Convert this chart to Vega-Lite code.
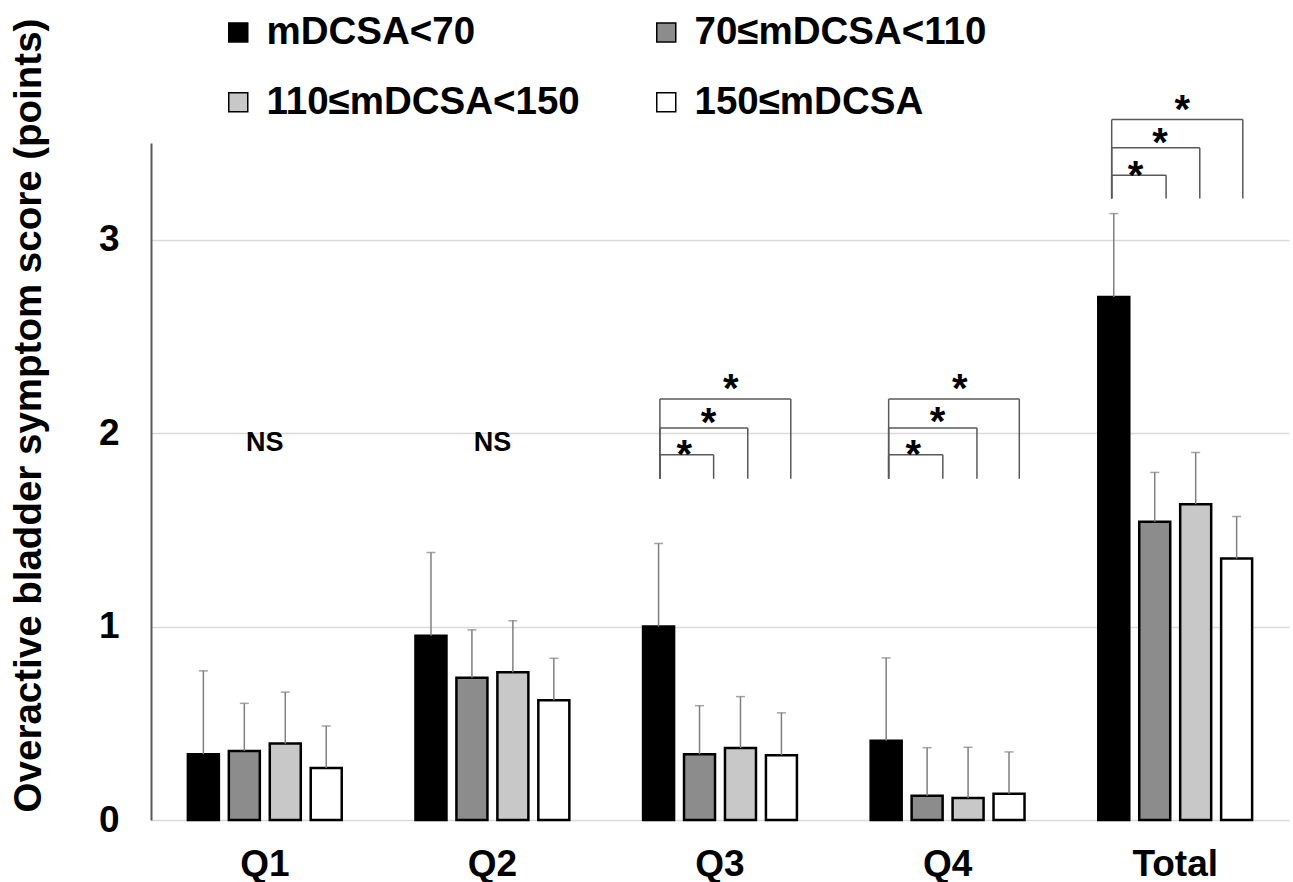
{
  "$schema": "https://vega.github.io/schema/vega-lite/v6.json",
  "width": 1138,
  "height": 677,
  "autosize": {"type": "none"},
  "padding": {"left": 151, "top": 143, "right": 4, "bottom": 62},
  "background": "white",
  "config": {
    "view": {"stroke": null},
    "font": "Liberation Sans",
    "axisY": {
      "ticks": false,
      "labelFontSize": 37,
      "labelFontWeight": "bold",
      "labelColor": "black",
      "labelPadding": 32,
      "domainColor": "#595959",
      "domainWidth": 2,
      "gridColor": "#d9d9d9",
      "gridWidth": 1.5,
      "titleFontSize": 38.5,
      "titleFontWeight": "bold",
      "titleColor": "black"
    },
    "axisX": {
      "ticks": false,
      "domain": false,
      "labelFontSize": 37,
      "labelFontWeight": "bold",
      "labelColor": "black",
      "labelPadding": 26,
      "labelAngle": 0
    }
  },
  "datasets": {
    "bars": [
      {"q": "Q1", "g": "mDCSA<70", "mean": 0.34, "upper": 0.771},
      {"q": "Q1", "g": "70≤mDCSA<110", "mean": 0.357, "upper": 0.603},
      {"q": "Q1", "g": "110≤mDCSA<150", "mean": 0.395, "upper": 0.661},
      {"q": "Q1", "g": "150≤mDCSA", "mean": 0.269, "upper": 0.486},
      {"q": "Q2", "g": "mDCSA<70", "mean": 0.953, "upper": 1.383},
      {"q": "Q2", "g": "70≤mDCSA<110", "mean": 0.735, "upper": 0.983},
      {"q": "Q2", "g": "110≤mDCSA<150", "mean": 0.764, "upper": 1.03},
      {"q": "Q2", "g": "150≤mDCSA", "mean": 0.619, "upper": 0.836},
      {"q": "Q3", "g": "mDCSA<70", "mean": 1.0, "upper": 1.429},
      {"q": "Q3", "g": "70≤mDCSA<110", "mean": 0.34, "upper": 0.591},
      {"q": "Q3", "g": "110≤mDCSA<150", "mean": 0.372, "upper": 0.638},
      {"q": "Q3", "g": "150≤mDCSA", "mean": 0.335, "upper": 0.554},
      {"q": "Q4", "g": "mDCSA<70", "mean": 0.41, "upper": 0.838},
      {"q": "Q4", "g": "70≤mDCSA<110", "mean": 0.126, "upper": 0.374},
      {"q": "Q4", "g": "110≤mDCSA<150", "mean": 0.114, "upper": 0.376},
      {"q": "Q4", "g": "150≤mDCSA", "mean": 0.136, "upper": 0.352},
      {"q": "Total", "g": "mDCSA<70", "mean": 2.704, "upper": 3.135},
      {"q": "Total", "g": "70≤mDCSA<110", "mean": 1.542, "upper": 1.797},
      {"q": "Total", "g": "110≤mDCSA<150", "mean": 1.633, "upper": 1.9},
      {"q": "Total", "g": "150≤mDCSA", "mean": 1.352, "upper": 1.569}
    ],
    "ns": [
      {"q": "Q1", "y": 1.95, "label": "NS"},
      {"q": "Q2", "y": 1.95, "label": "NS"}
    ],
    "brackets": [
      {"l": 2.236, "r": 2.472, "top": 1.888, "bot": 1.764},
      {"l": 2.236, "r": 2.622, "top": 2.026, "bot": 1.764},
      {"l": 2.236, "r": 2.811, "top": 2.176, "bot": 1.764},
      {"l": 3.241, "r": 3.479, "top": 1.888, "bot": 1.764},
      {"l": 3.241, "r": 3.629, "top": 2.026, "bot": 1.764},
      {"l": 3.241, "r": 3.815, "top": 2.176, "bot": 1.764},
      {"l": 4.221, "r": 4.46, "top": 3.333, "bot": 3.213},
      {"l": 4.221, "r": 4.608, "top": 3.475, "bot": 3.213},
      {"l": 4.221, "r": 4.797, "top": 3.621, "bot": 3.213}
    ],
    "stars": [
      {"x": 2.547, "y": 2.273, "s": "*"},
      {"x": 2.45, "y": 2.099, "s": "*"},
      {"x": 2.343, "y": 1.935, "s": "*"},
      {"x": 3.554, "y": 2.273, "s": "*"},
      {"x": 3.456, "y": 2.104, "s": "*"},
      {"x": 3.349, "y": 1.931, "s": "*"},
      {"x": 4.531, "y": 3.716, "s": "*"},
      {"x": 4.433, "y": 3.544, "s": "*"},
      {"x": 4.326, "y": 3.377, "s": "*"}
    ]
  },
  "layer": [
    {
      "layer": [
        {
          "data": {"name": "bars"},
          "mark": {"type": "bar", "stroke": "black", "strokeWidth": 2.5},
          "encoding": {
            "x": {"field": "q", "type": "nominal", "sort": ["Q1", "Q2", "Q3", "Q4", "Total"], "scale": {"paddingInner": 0.324, "paddingOuter": 0.162}, "title": null},
            "xOffset": {"field": "g", "type": "nominal", "sort": ["mDCSA<70", "70≤mDCSA<110", "110≤mDCSA<150", "150≤mDCSA"], "scale": {"paddingInner": 0.243, "paddingOuter": 0}},
            "y": {"field": "mean", "type": "quantitative", "scale": {"domain": [0, 3.5], "nice": false}, "title": "Overactive bladder symptom score (points)", "axis": {"values": [0, 1, 2, 3], "format": "d", "titleX": -111, "titleY": 272, "titleBaseline": "alphabetic", "titleAngle": 270, "titleAlign": "center"}},
            "fill": {
              "field": "g", "type": "nominal",
              "scale": {"domain": ["mDCSA<70", "110≤mDCSA<150", "70≤mDCSA<110", "150≤mDCSA"], "range": ["#000000", "#c8c8c8", "#8c8c8c", "#ffffff"]},
              "legend": {
                "orient": "none", "legendX": 68, "legendY": -130, "columns": 2, "title": null,
                "symbolType": "square", "symbolSize": 361, "symbolStrokeColor": "black", "symbolStrokeWidth": 1.5,
                "labelFontSize": 38.5, "labelFontWeight": "bold", "labelColor": "black", "labelOffset": 9, "labelLimit": 500,
                "columnPadding": 67, "rowPadding": 31, "padding": 0
              }
            }
          }
        },
        {
          "data": {"name": "bars"},
          "mark": {"type": "rule", "color": "#7f7f7f", "strokeWidth": 1.5},
          "encoding": {
            "x": {"field": "q", "type": "nominal", "sort": ["Q1", "Q2", "Q3", "Q4", "Total"], "title": null},
            "xOffset": {"field": "g", "type": "nominal", "sort": ["mDCSA<70", "70≤mDCSA<110", "110≤mDCSA<150", "150≤mDCSA"]},
            "y": {"field": "mean", "type": "quantitative", "scale": {"domain": [0, 3.5], "nice": false}, "title": "Overactive bladder symptom score (points)"},
            "y2": {"field": "upper"}
          }
        },
        {
          "data": {"name": "bars"},
          "mark": {"type": "tick", "color": "#7f7f7f", "thickness": 1.5, "size": 9},
          "encoding": {
            "x": {"field": "q", "type": "nominal", "sort": ["Q1", "Q2", "Q3", "Q4", "Total"], "title": null},
            "xOffset": {"field": "g", "type": "nominal", "sort": ["mDCSA<70", "70≤mDCSA<110", "110≤mDCSA<150", "150≤mDCSA"]},
            "y": {"field": "upper", "type": "quantitative", "scale": {"domain": [0, 3.5], "nice": false}, "title": "Overactive bladder symptom score (points)"}
          }
        },
        {
          "data": {"name": "ns"},
          "mark": {"type": "text", "fontSize": 27, "fontWeight": "bold", "baseline": "middle", "color": "black"},
          "encoding": {
            "x": {"field": "q", "type": "nominal", "sort": ["Q1", "Q2", "Q3", "Q4", "Total"], "title": null},
            "y": {"field": "y", "type": "quantitative", "scale": {"domain": [0, 3.5], "nice": false}, "title": "Overactive bladder symptom score (points)"},
            "text": {"field": "label"}
          }
        }
      ]
    },
    {
      "layer": [
        {
          "data": {"name": "brackets"},
          "mark": {"type": "rule", "color": "#595959", "strokeWidth": 1.5},
          "encoding": {
            "x": {"field": "l", "type": "quantitative", "scale": {"domain": [0, 5], "nice": false, "zero": false}, "axis": null},
            "x2": {"field": "r"},
            "y": {"field": "top", "type": "quantitative", "scale": {"domain": [0, 3.5], "nice": false}, "title": "Overactive bladder symptom score (points)"}
          }
        },
        {
          "data": {"name": "brackets"},
          "mark": {"type": "rule", "color": "#595959", "strokeWidth": 1.5},
          "encoding": {
            "x": {"field": "l", "type": "quantitative", "scale": {"domain": [0, 5], "nice": false, "zero": false}, "axis": null},
            "y": {"field": "bot", "type": "quantitative", "scale": {"domain": [0, 3.5], "nice": false}, "title": "Overactive bladder symptom score (points)"},
            "y2": {"field": "top"}
          }
        },
        {
          "data": {"name": "brackets"},
          "mark": {"type": "rule", "color": "#595959", "strokeWidth": 1.5},
          "encoding": {
            "x": {"field": "r", "type": "quantitative", "scale": {"domain": [0, 5], "nice": false, "zero": false}, "axis": null},
            "y": {"field": "bot", "type": "quantitative", "scale": {"domain": [0, 3.5], "nice": false}, "title": "Overactive bladder symptom score (points)"},
            "y2": {"field": "top"}
          }
        },
        {
          "data": {"name": "stars"},
          "mark": {"type": "text", "fontSize": 40, "fontWeight": "bold", "baseline": "middle", "dy": 10, "color": "black"},
          "encoding": {
            "x": {"field": "x", "type": "quantitative", "scale": {"domain": [0, 5], "nice": false, "zero": false}, "axis": null},
            "y": {"field": "y", "type": "quantitative", "scale": {"domain": [0, 3.5], "nice": false}, "title": "Overactive bladder symptom score (points)"},
            "text": {"field": "s"}
          }
        }
      ]
    }
  ],
  "resolve": {"scale": {"x": "independent"}, "axis": {"x": "independent"}}
}
